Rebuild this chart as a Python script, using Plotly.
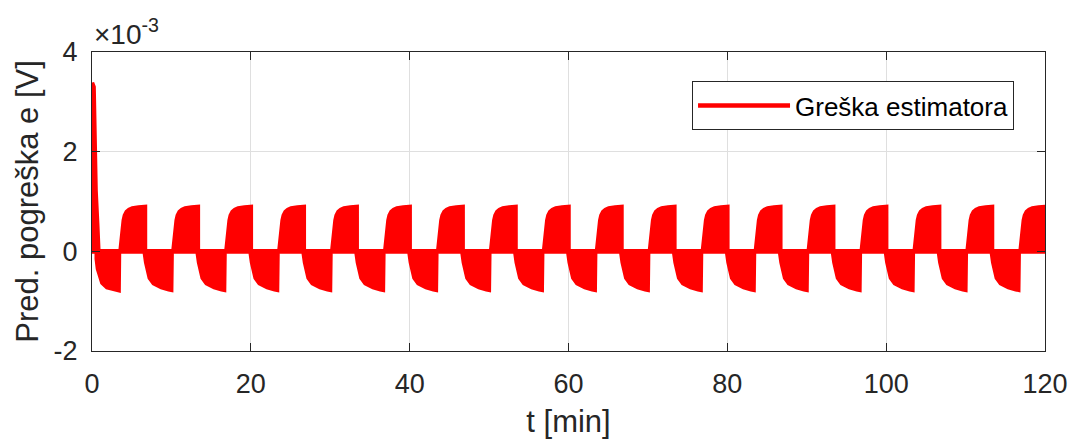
import plotly.graph_objects as go

# ---- data (time in min, error in units of 1e-3 V) ----
hump_end_t = [6.67, 13.33, 20.0, 26.67, 33.33, 40.0, 46.67, 53.33, 60.0,
              66.67, 73.33, 80.0, 86.67, 93.33, 100.0, 106.67, 113.33, 120.0]
# positive half-cycle envelope, time offsets relative to the hump end
pos_dt = [-3.08, -2.93, -2.8, -2.67, -2.53, -2.3, -2.0, -1.59, -0.8, 0.0]
pos_env = [0.0, 0.28, 0.48, 0.62, 0.72, 0.79, 0.83, 0.86, 0.88, 0.89]
# negative half-cycle envelope, time offsets relative to the preceding hump end
neg_dt = [0.0, 0.15, 0.35, 0.6, 1.1, 2.07, 3.0, 3.3, 3.36]
neg_env = [-0.05, -0.22, -0.42, -0.53, -0.64, -0.72, -0.76, -0.77, 0.0]
# initial transient
spike_t = [0.0, 0.0, 0.2, 0.27, 0.45, 0.65, 0.8]
spike_v = [0.0, 3.38, 3.3, 2.23, 1.22, 0.56, 0.0]
first_neg_t = [0.6, 0.75, 1.0, 1.3, 1.9, 2.9, 3.35, 3.4]
first_neg_v = [-0.15, -0.35, -0.52, -0.63, -0.72, -0.77, -0.78, 0.0]

x_ticks = [0, 20, 40, 60, 80, 100, 120]
y_ticks = [-2, 0, 2, 4]
SCALE = 1e-3

# ---- build the band polygons (each half cycle filled between 0 and envelope) ----
xs, ys = [], []


def add_poly(tt, vv):
    xs.extend([tt[0]] + list(tt) + [tt[-1], tt[0]] + [None])
    ys.extend([0.0] + [v * SCALE for v in vv] + [0.0, 0.0] + [None])


add_poly(spike_t, spike_v)
add_poly(first_neg_t, first_neg_v)
for i, te in enumerate(hump_end_t):
    add_poly([te + d for d in pos_dt], pos_env)
    if i < len(hump_end_t) - 1:
        add_poly([te + d for d in neg_dt], neg_env)
# zero baseline of the oscillation
xs.extend([0.0, 120.0, None])
ys.extend([0.0, 0.0, None])

RED = "#ff0000"
fig = go.Figure()
fig.add_trace(go.Scatter(x=xs, y=ys, mode="lines", fill="toself",
                         fillcolor=RED, line=dict(color=RED, width=0),
                         showlegend=False, hoverinfo="skip"))
fig.add_trace(go.Scatter(x=xs, y=ys, mode="lines", name="Greška estimatora",
                         line=dict(color=RED, width=4.5)))

FONT = "Liberation Sans, Arial, Helvetica, sans-serif"
AX = "#262626"
GRID = "#dfdfdf"

fig.update_layout(
    width=1070, height=439,
    margin=dict(l=92, r=25, t=52, b=88),
    paper_bgcolor="white", plot_bgcolor="white",
    font=dict(family=FONT, size=27, color=AX),
    showlegend=True,
    legend=dict(x=0.9675, y=0.903, xanchor="right", yanchor="top",
                bgcolor="white", bordercolor=AX, borderwidth=1,
                font=dict(family=FONT, size=26, color="black"),
                itemwidth=92, tracegroupgap=0),
    xaxis=dict(range=[0, 120], tickvals=x_ticks, ticktext=[str(v) for v in x_ticks],
               automargin=False,
               showgrid=True, gridcolor=GRID, gridwidth=1, zeroline=False,
               showline=True, linecolor=AX, linewidth=1, mirror="allticks",
               ticks="inside", ticklen=8, tickcolor=AX, tickwidth=1,
               ticklabelstandoff=9,
               tickfont=dict(family=FONT, size=27, color=AX),
               title=dict(text="t [min]", font=dict(family=FONT, size=31, color=AX),
                          standoff=20)),
    yaxis=dict(range=[-2 * SCALE, 4 * SCALE], tickvals=[v * SCALE for v in y_ticks],
               ticktext=[str(v) for v in y_ticks],
               automargin=False,
               showgrid=True, gridcolor=GRID, gridwidth=1, zeroline=False,
               showline=True, linecolor=AX, linewidth=1, mirror="allticks",
               ticks="inside", ticklen=8, tickcolor=AX, tickwidth=1,
               ticklabelstandoff=8,
               tickfont=dict(family=FONT, size=27, color=AX),
               title=dict(text="Pred. pogreška e [V]",
                          font=dict(family=FONT, size=31, color=AX), standoff=5)),
    annotations=[dict(xref="paper", yref="paper", x=0, y=1, xanchor="left",
                      yanchor="bottom", showarrow=False, xshift=0, yshift=0,
                      text="×10<sup>-3</sup>",
                      font=dict(family=FONT, size=28, color=AX))],
)

# remove the browser's default 8 px body margin so the figure sits at (0, 0)
fig.write_html("out.html", config={"displayModeBar": False},
               post_script="document.body.style.margin='0';")
